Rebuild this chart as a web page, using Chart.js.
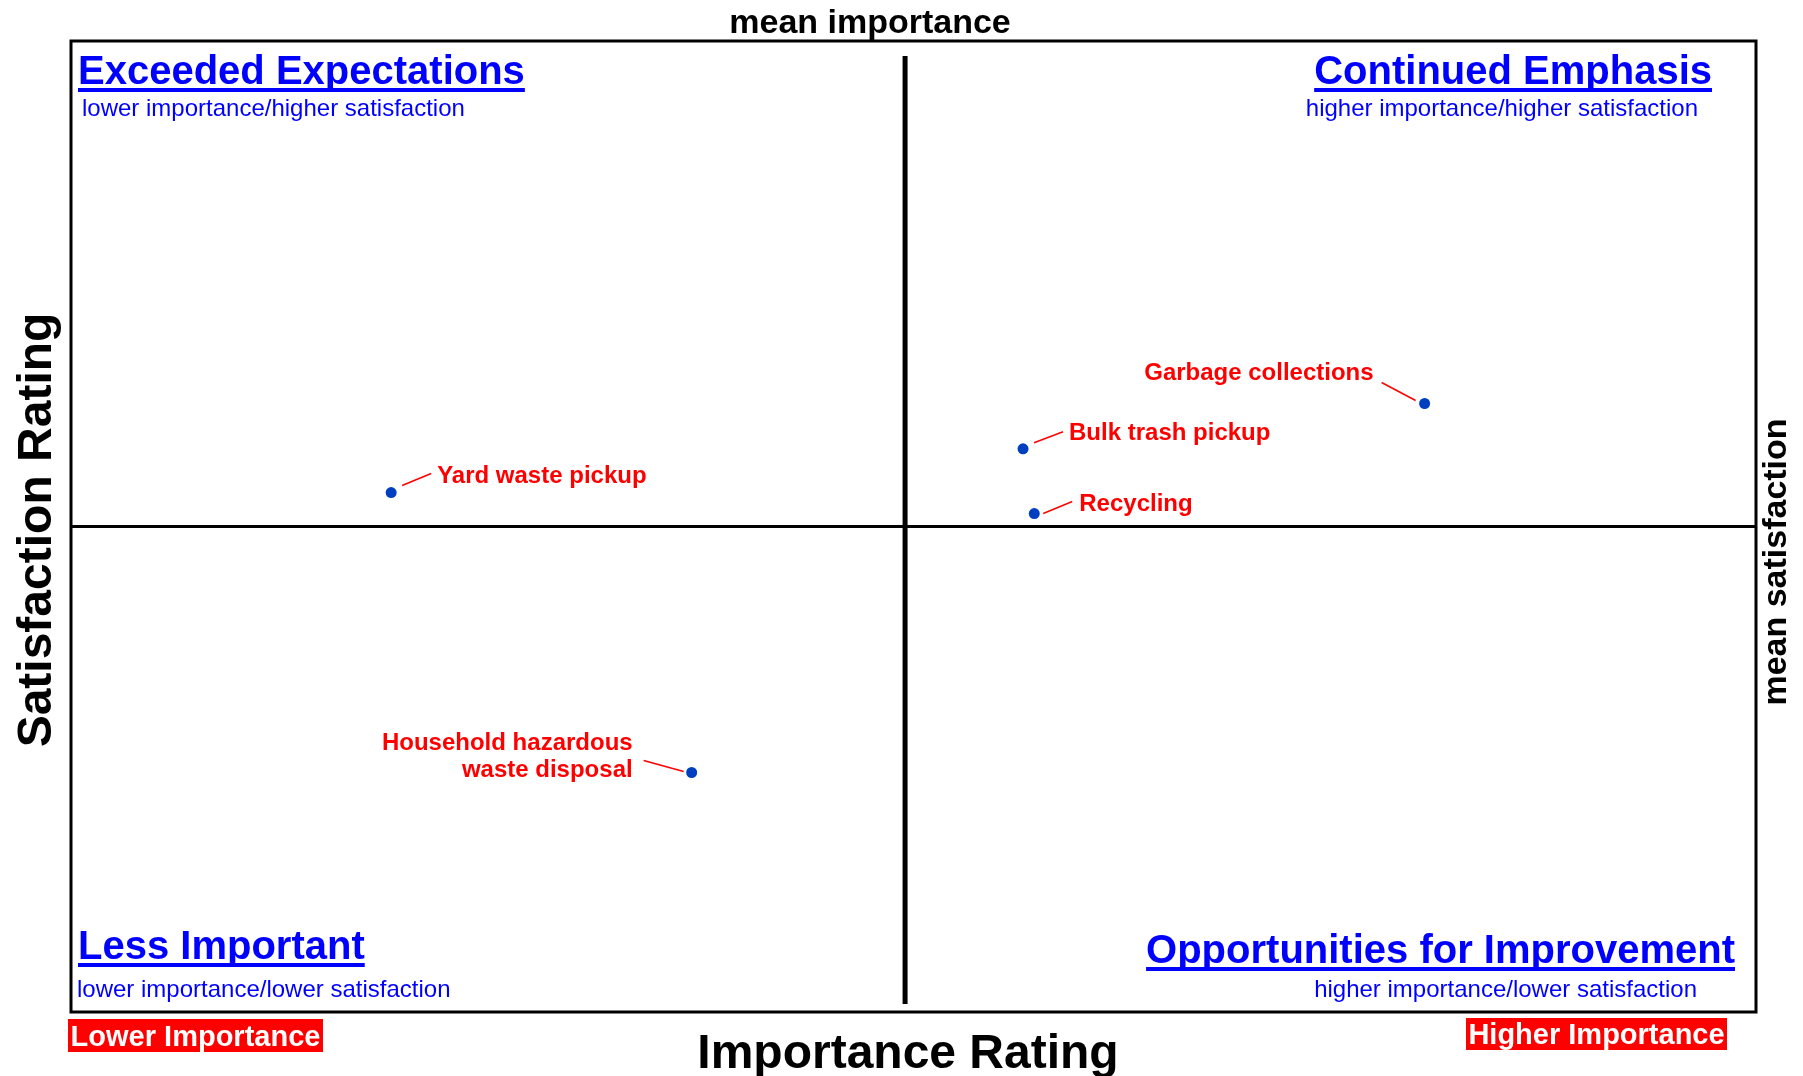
<!DOCTYPE html>
<html>
<head>
<meta charset="utf-8">
<title>Importance-Satisfaction Matrix</title>
<script src="https://cdn.jsdelivr.net/npm/chart.js@4.4.0/dist/chart.umd.min.js"></script>
<style>
  html, body { margin: 0; padding: 0; background: #fff; overflow: hidden; }
  #wrap { width: 1803px; height: 1076px; position: relative; }
</style>
</head>
<body>
<div id="wrap"><canvas id="matrix"></canvas></div>
<script>
const services = ['Garbage collections', 'Bulk trash pickup', 'Recycling', 'Yard waste pickup', 'Household hazardous\nwaste disposal'];
const importance = [53.2, 38.9, 39.3, 16.4, 27.1];
const satisfaction = [77.6, 74.8, 70.8, 72.1, 54.8];

// Reference lines
const meanImportance = 34.7;
const meanSatisfaction = 70.0;

// Axis ranges (no ticks shown)
const importanceRange = [5, 65];
const satisfactionRange = [40, 100];

// Where each label sits relative to its point (px)
const labelPlacement = [
    { align: 'right', tx: -51, ty: -24, from: [-43, -21], to: [-9, -3] },
    { align: 'left',  tx: 46,  ty: -9,  from: [11, -6],   to: [40, -17] },
    { align: 'left',  tx: 45,  ty: -3,  from: [9, 0],     to: [38, -12] },
    { align: 'left',  tx: 46,  ty: -10, from: [11, -7],   to: [40, -19] },
    { align: 'right', tx: -59, ty: -22, from: [-48, -12], to: [-8, -1] }
];

const FONT = '"Liberation Sans", Arial, Helvetica, sans-serif';

function underlined(ctx, text, x, y, align) {
    ctx.textAlign = align;
    ctx.fillText(text, x, y);
    const w = ctx.measureText(text).width;
    const left = align === 'right' ? x - w : x;
    ctx.fillRect(left, y + 4, w, 4);
}

const matrixPlugin = {
    id: 'matrix',
    beforeDatasetsDraw(chart) {
        const { ctx, chartArea: a, scales } = chart;
        ctx.save();
        // mean lines
        const mx = scales.x.getPixelForValue(meanImportance);
        const my = scales.y.getPixelForValue(meanSatisfaction);
        ctx.strokeStyle = '#000';
        ctx.lineWidth = 3;
        ctx.beginPath();
        ctx.moveTo(a.left, my);
        ctx.lineTo(a.right, my);
        ctx.stroke();
        ctx.lineWidth = 5;
        ctx.beginPath();
        ctx.moveTo(mx, a.top + 15);
        ctx.lineTo(mx, a.bottom - 8);
        ctx.stroke();
        // frame
        ctx.lineWidth = 3;
        ctx.strokeRect(a.left, a.top, a.right - a.left, a.bottom - a.top);
        ctx.restore();
    },
    afterDatasetsDraw(chart) {
        const { ctx, scales } = chart;
        ctx.save();
        ctx.font = 'bold 24px ' + FONT;
        ctx.fillStyle = '#ff0000';
        ctx.strokeStyle = '#ff0000';
        ctx.lineWidth = 1.5;
        ctx.textBaseline = 'alphabetic';
        services.forEach((name, i) => {
            const px = scales.x.getPixelForValue(importance[i]);
            const py = scales.y.getPixelForValue(satisfaction[i]);
            const p = labelPlacement[i];
            ctx.beginPath();
            ctx.moveTo(px + p.from[0], py + p.from[1]);
            ctx.lineTo(px + p.to[0], py + p.to[1]);
            ctx.stroke();
            ctx.textAlign = p.align;
            name.split('\n').forEach((line, j) => {
                ctx.fillText(line, px + p.tx, py + p.ty + j * 27);
            });
        });
        ctx.restore();
    },
    afterDraw(chart) {
        const { ctx, chartArea: a } = chart;
        ctx.save();
        ctx.textBaseline = 'alphabetic';

        // quadrant titles
        ctx.fillStyle = '#0000ff';
        ctx.font = 'bold 40px ' + FONT;
        underlined(ctx, 'Exceeded Expectations', a.left + 7, a.top + 43, 'left');
        underlined(ctx, 'Continued Emphasis', a.right - 44, a.top + 43, 'right');
        underlined(ctx, 'Less Important', a.left + 7, a.bottom - 53, 'left');
        underlined(ctx, 'Opportunities for Improvement', a.right - 21, a.bottom - 49, 'right');

        ctx.font = '24px ' + FONT;
        ctx.textAlign = 'left';
        ctx.fillText('lower importance/higher satisfaction', a.left + 11, a.top + 75);
        ctx.fillText('lower importance/lower satisfaction', a.left + 6, a.bottom - 15);
        ctx.textAlign = 'right';
        ctx.fillText('higher importance/higher satisfaction', a.right - 58, a.top + 75);
        ctx.fillText('higher importance/lower satisfaction', a.right - 59, a.bottom - 15);

        // axis titles
        ctx.fillStyle = '#000';
        ctx.font = 'bold 48px ' + FONT;
        ctx.textAlign = 'center';
        ctx.fillText('Importance Rating', 908, 1068);
        ctx.save();
        ctx.translate(51, 530);
        ctx.rotate(-Math.PI / 2);
        ctx.fillText('Satisfaction Rating', 0, 0);
        ctx.restore();

        ctx.font = 'bold 34px ' + FONT;
        ctx.fillText('mean importance', 870, 33);
        ctx.save();
        ctx.translate(1786, 562);
        ctx.rotate(-Math.PI / 2);
        ctx.fillText('mean satisfaction', 0, 0);
        ctx.restore();

        // red end tags
        ctx.font = 'bold 29px ' + FONT;
        ctx.fillStyle = '#ff0000';
        ctx.fillRect(68, 1019, 255, 33);
        ctx.fillRect(1466, 1018, 261, 32);
        ctx.fillStyle = '#fff';
        ctx.textAlign = 'center';
        ctx.fillText('Lower Importance', 68 + 255 / 2, 1046);
        ctx.fillText('Higher Importance', 1466 + 261 / 2, 1044);
        ctx.restore();
    }
};

document.addEventListener('DOMContentLoaded', function() {
    const points = importance.map((x, i) => ({ x: x, y: satisfaction[i] }));

    new Chart(document.getElementById('matrix'), {
        type: 'scatter',
        data: {
            datasets: [{
                label: 'Services',
                data: points,
                backgroundColor: '#0040c0',
                borderWidth: 0,
                pointRadius: 5.5,
                pointHoverRadius: 5.5
            }]
        },
        options: {
            responsive: true,
            maintainAspectRatio: false,
            animation: false,
            layout: { padding: { left: 71, right: 47, top: 41, bottom: 64 } },
            plugins: {
                legend: { display: false },
                tooltip: { enabled: false }
            },
            scales: {
                x: { type: 'linear', min: importanceRange[0], max: importanceRange[1], display: false },
                y: { type: 'linear', min: satisfactionRange[0], max: satisfactionRange[1], display: false }
            }
        },
        plugins: [matrixPlugin]
    });
});
</script>
</body>
</html>
